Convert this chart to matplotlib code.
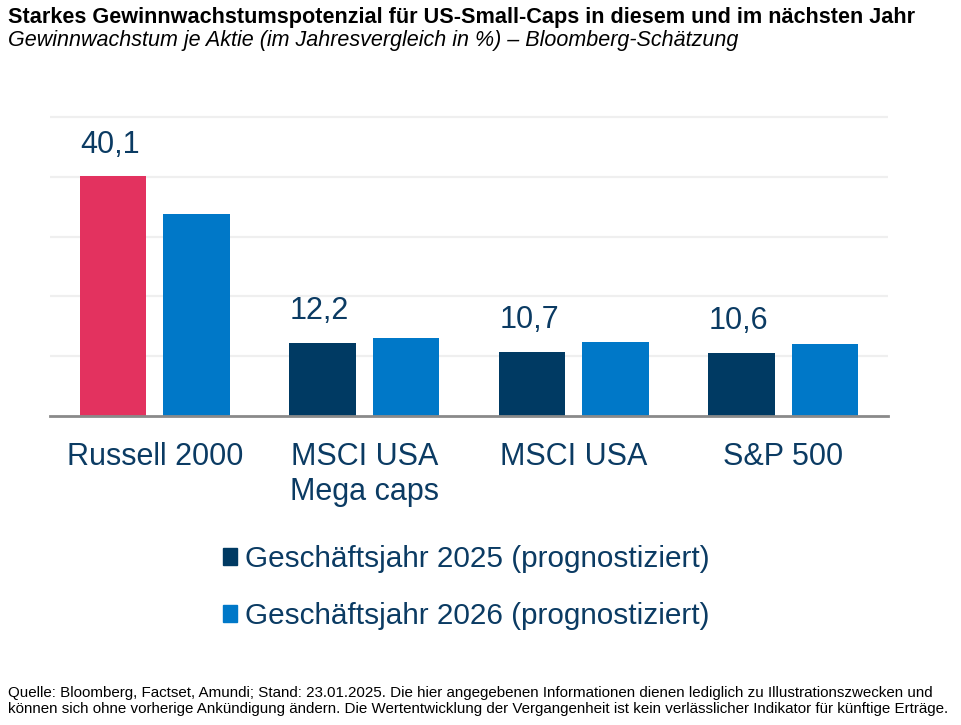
import matplotlib
matplotlib.use("Agg")
import matplotlib.pyplot as plt
from matplotlib.patches import Patch
import numpy as np

categories = ["Russell 2000", "MSCI USA\nMega caps", "MSCI USA", "S&P 500"]
fy2025 = [40.1, 12.2, 10.7, 10.6]
fy2026 = [33.7, 13.0, 12.4, 12.1]
label_2025 = ["40,1", "12,2", "10,7", "10,6"]
series_names = ["Geschäftsjahr 2025 (prognostiziert)", "Geschäftsjahr 2026 (prognostiziert)"]
title = "Starkes Gewinnwachstumspotenzial für US-Small-Caps in diesem und im nächsten Jahr"
subtitle = "Gewinnwachstum je Aktie (im Jahresvergleich in %) – Bloomberg-Schätzung"
footer = ("Quelle: Bloomberg, Factset, Amundi; Stand: 23.01.2025. Die hier angegebenen Informationen dienen lediglich zu Illustrationszwecken und\n"
          "können sich ohne vorherige Ankündigung ändern. Die Wertentwicklung der Vergangenheit ist kein verlässlicher Indikator für künftige Erträge.")

NAVY = "#003A63"
BLUE = "#0078C8"
RED = "#E3325F"
TXT = "#0B3B63"

plt.rcParams['font.family'] = ['Liberation Sans', 'DejaVu Sans']

W, H = 961, 725
fig = plt.figure(figsize=(W / 100, H / 100), dpi=100)

def px_x(x):
    return x / W

def px_y(y):
    return 1 - y / H

ax_left, ax_right = 50, 888
ax_bottom, ax_top = 416, 110
ppu = 5.98
ymax = (ax_bottom - ax_top) / ppu
ax = fig.add_axes([px_x(ax_left), px_y(ax_bottom), (ax_right - ax_left) / W, (ax_bottom - ax_top) / H])

x = np.arange(len(categories))
bw = 0.317
off = 0.2
colors_2025 = [RED] + [NAVY] * (len(categories) - 1)
ax.bar(x - off, fy2025, width=bw, color=colors_2025, zorder=3)
ax.bar(x + off, fy2026, width=bw, color=BLUE, zorder=3)

for xi, v, lab in zip(x, fy2025, label_2025):
    ax.annotate(lab, (xi - off, v), xytext=(-2, 17), textcoords="offset points",
                ha="center", va="baseline", fontsize=22, color=TXT)

ax.set_xlim(-0.5, len(categories) - 0.5)
ax.set_ylim(0, ymax)
ax.set_yticks([10, 20, 30, 40, 50])
ax.yaxis.grid(True, color="#EFEFEF", linewidth=1.6, zorder=0)
ax.tick_params(axis="y", left=False, labelleft=False)
ax.tick_params(axis="x", bottom=False, pad=15)
ax.set_xticks(x)
ax.set_xticklabels(categories, fontsize=22, color=TXT, linespacing=1.23)
for s in ["top", "right", "left"]:
    ax.spines[s].set_visible(False)
ax.spines["bottom"].set_color("#8A8A8A")
ax.spines["bottom"].set_linewidth(2)
ax.spines["bottom"].set_zorder(4)

handles = [Patch(color=NAVY), Patch(color=BLUE)]
fig.legend(handles, series_names, loc="upper left", bbox_to_anchor=(px_x(223), px_y(545)),
           frameon=False, fontsize=21.4, labelcolor=TXT, handlelength=0.46, handleheight=0.46,
           handletextpad=0.27, labelspacing=0.98, borderpad=0, borderaxespad=0)

fig.text(px_x(8), px_y(23), title, fontsize=15.6, fontweight="bold", color="black", va="baseline")
fig.text(px_x(8), px_y(46), subtitle, fontsize=15.5, style="italic", color="black", va="baseline")
fig.text(px_x(8), px_y(713), footer, fontsize=10.9, color="black", va="baseline", linespacing=1.2)

fig.savefig("out.png", dpi=100)
